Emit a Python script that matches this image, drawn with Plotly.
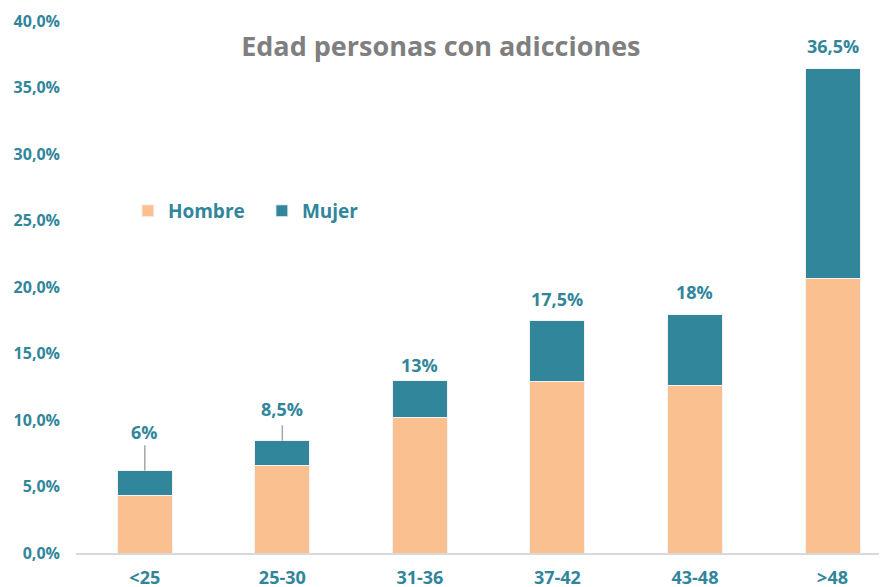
import plotly.graph_objects as go

categories = ["<25", "25-30", "31-36", "37-42", "43-48", ">48"]
hombre = [4.3, 6.55, 10.2, 12.9, 12.6, 20.65]
mujer = [1.9, 1.9, 2.8, 4.55, 5.3, 15.8]
total_labels = ["6%", "8,5%", "13%", "17,5%", "18%", "36,5%"]
label_y = [9.1, 10.8, 14.1, 19.1, 19.6, 38.1]
leader_top = [8.1, 9.6, None, None, None, None]

TEAL = "#31869B"
PEACH = "#FAC090"
FONT = "'Open Sans', Lato, sans-serif"

fig = go.Figure()
fig.add_trace(go.Bar(x=categories, y=hombre, name="Hombre",
                     marker=dict(color=PEACH, line=dict(color="#f3f3f3", width=1)),
                     width=0.4))
fig.add_trace(go.Bar(x=categories, y=mujer, name="Mujer",
                     marker=dict(color=TEAL, line=dict(color="#f3f3f3", width=1)),
                     width=0.4))

totals = [h + m for h, m in zip(hombre, mujer)]
for i, c in enumerate(categories):
    fig.add_annotation(x=c, y=label_y[i], text=total_labels[i], showarrow=False,
                       font=dict(family=FONT, size=18, color=TEAL, weight="bold"),
                       xref="x", yref="y")
    if leader_top[i] is not None:
        fig.add_shape(type="line", xref="x", yref="y", x0=c, x1=c,
                      y0=totals[i], y1=leader_top[i],
                      line=dict(color="#A6A6A6", width=1.5))

fig.update_layout(
    barmode="stack",
    width=887, height=587,
    margin=dict(l=68, r=8, t=13, b=42),
    plot_bgcolor="white", paper_bgcolor="white",
    title=dict(text="Edad personas con adicciones", x=0.488, xanchor="center",
               y=0.934, yanchor="middle",
               font=dict(family=FONT, size=27, color="#7F7F7F", weight="bold")),
    legend=dict(orientation="h", x=0.064, y=0.643, xanchor="left", yanchor="middle",
                font=dict(family=FONT, size=19, color=TEAL, weight="bold"),
                bgcolor="rgba(0,0,0,0)", itemwidth=30, traceorder="normal",
                entrywidth=89),
    xaxis=dict(range=[-0.5, 5.396], showgrid=False, showline=True, automargin=False,
               linecolor="#D9D9D9", linewidth=2, ticklabelstandoff=7,
               tickfont=dict(family=FONT, size=18, color=TEAL, weight="bold"), ticks=""),
    yaxis=dict(range=[0, 40], dtick=5, showgrid=False, zeroline=False, automargin=False,
               tickformat=".1f", ticksuffix="%", ticklabelstandoff=15,
               tickfont=dict(family=FONT, size=16, color=TEAL, weight="bold")),
    separators=",.",
    font=dict(family=FONT),
)

fig.write_html("out.html")
